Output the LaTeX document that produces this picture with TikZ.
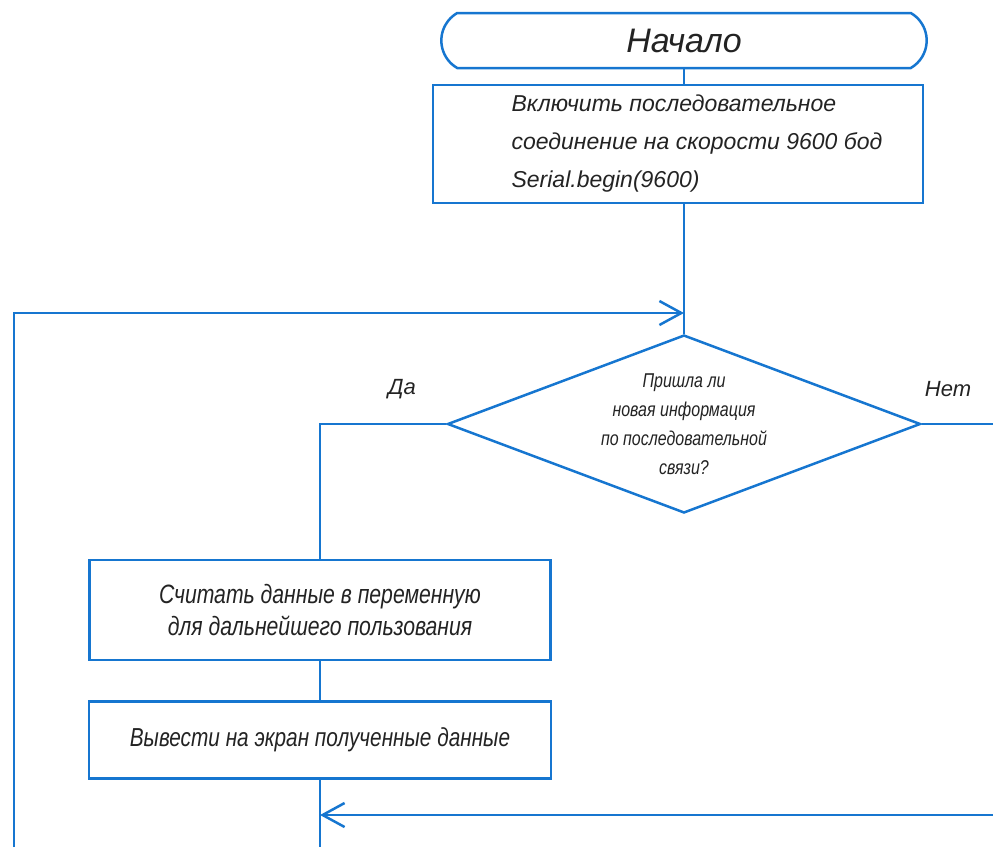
\documentclass[tikz,border=0pt]{standalone}
\usepackage{fontspec}
\setmainfont{Liberation Sans}
\newfontfamily\narrowfont[FakeStretch=0.8]{Liberation Sans}
\usetikzlibrary{calc}
\usetikzlibrary{shapes.misc}
\usetikzlibrary{shapes.geometric}
\usetikzlibrary{arrows.meta}
\definecolor{schblue}{RGB}{22,118,208}
\definecolor{schtext}{RGB}{35,35,35}

\begin{document}
\begin{tikzpicture}[x=1pt, y=-1pt, text=schtext,
    block/.style={rectangle, draw=schblue, line width=2.5pt, inner sep=0pt, align=center},
    term/.style={rounded rectangle, rounded rectangle arc length=120, draw=schblue, line width=2.5pt, minimum width=492pt, minimum height=55pt}]
    \tikzset{decision/.style={diamond, draw=schblue, line width=2.5pt, inner sep=0pt, aspect=2.66, minimum width=473pt, minimum height=178pt, align=center}}
    \tikzset{flow/.style={draw=schblue, line width=2.5pt},
    %open barb like in the drawing
    flowarrow/.style={flow, -{Straight Barb[length=22pt, width=24pt]}}}
    \def \big {\itshape\fontsize{34}{40}\selectfont}
    \def \mid {\itshape\fontsize{23}{38}\selectfont}
    \def \small {\narrowfont\itshape\fontsize{20}{29}\selectfont}
    \def \ind {\hspace*{38pt}}
    \useasboundingbox (0,0) rectangle (993,847);

    \node[term, font=\big] (start) at (684,40.5) {Начало};
    \node[block, minimum width=490pt, minimum height=118pt, align=left, font=\mid] (serial) at (678,144) {\ind Включить последовательное\\\ind соединение на скорости 9600 бод\\\ind Serial.begin(9600)};
    \node[decision, font=\small] (check) at (684,424) {Пришла ли\\новая информация\\по последовательной\\связи?};
    \node[block, minimum width=461pt, minimum height=100pt, font=\narrowfont\itshape\fontsize{26.5}{32}\selectfont] (read) at (320,610) {Считать данные в переменную\\для дальнейшего пользования};
    \node[block, minimum width=462pt, minimum height=77pt, font=\narrowfont\itshape\fontsize{26}{30}\selectfont] (show) at (320,740) {Вывести на экран полученные данные};

    \node[font=\itshape\fontsize{22}{26}\selectfont] (yes) at (402,389) {Да};
    \node[font=\itshape\fontsize{22}{26}\selectfont] (no) at (948,389) {Нет};

    \coordinate (merge) at (684,313);
    \coordinate (loopfoot) at (14,847);
    \coordinate (noend) at (993,424);
    \coordinate (backstart) at (993,815);
    \coordinate (bottom) at (320,847);

    \draw[flow] (start.south) -- (start.south |- serial.north);
    \draw[flow] (serial.south -| check.north) -- (check.north);
    \draw[flowarrow] (loopfoot) |- (merge);
    \draw[flow] (check.west) -| (read.north);
    \draw[flow] (check.east) -- (noend);
    \draw[flow] (read) -- (show);
    \draw[flow] (show.south) -- (bottom);
    \draw[flowarrow] (backstart) -- (backstart -| show.south);
\end{tikzpicture}
\end{document}
